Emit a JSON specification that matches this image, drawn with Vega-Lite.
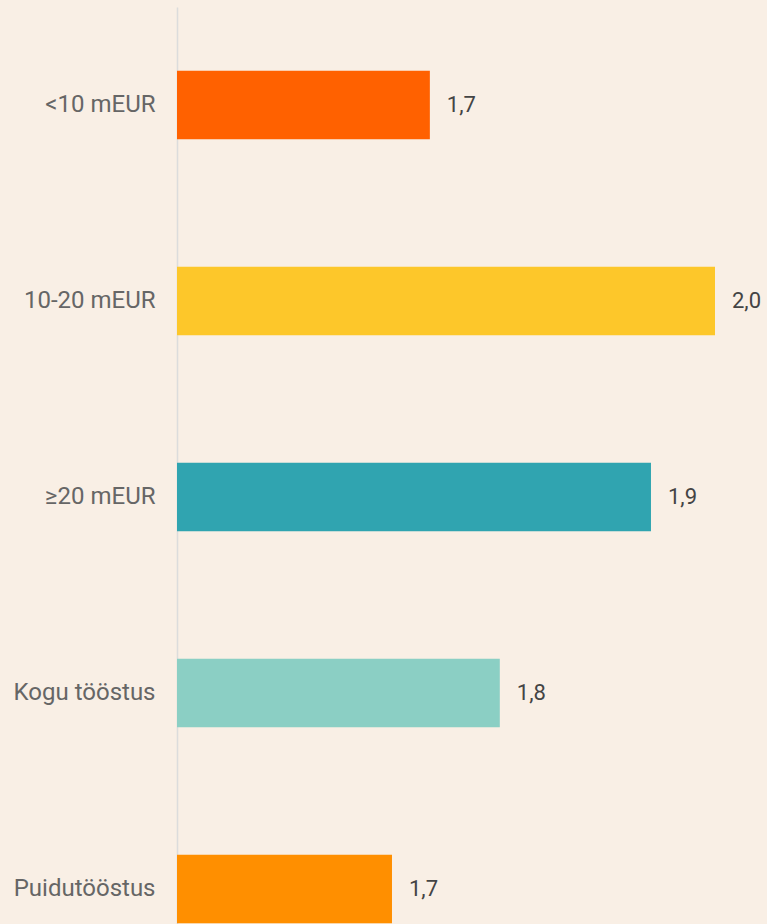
{
  "$schema": "https://vega.github.io/schema/vega-lite/v6.json",
  "autosize": {"type": "none"},
  "width": 538,
  "height": 980,
  "padding": {"top": 7, "left": 177, "right": 52, "bottom": 0},
  "background": "#f9efe5",
  "config": {
    "view": {"stroke": null},
    "locale": {"number": {"decimal": ",", "thousands": " ", "grouping": [3], "currency": ["", " €"]}},
    "font": "Roboto"
  },
  "data": {
    "values": [
      {"kategooria": "<10 mEUR", "vaartus": 1.735},
      {"kategooria": "10-20 mEUR", "vaartus": 2.0},
      {"kategooria": "≥20 mEUR", "vaartus": 1.9405},
      {"kategooria": "Kogu tööstus", "vaartus": 1.8},
      {"kategooria": "Puidutööstus", "vaartus": 1.6998}
    ]
  },
  "encoding": {
    "y": {
      "field": "kategooria",
      "type": "nominal",
      "sort": null,
      "scale": {"paddingInner": 0.65, "paddingOuter": 0.325},
      "axis": {
        "title": null,
        "ticks": false,
        "labelPadding": 22,
        "labelFontSize": 24,
        "labelColor": "#666666",
        "labelFont": "Roboto",
        "domainColor": "#dcdcdc",
        "domainWidth": 1.5,
        "labelLimit": 300
      }
    },
    "x": {
      "field": "vaartus",
      "type": "quantitative",
      "stack": null,
      "scale": {"domain": [1.5, 2.0], "zero": false, "nice": false},
      "axis": null
    }
  },
  "layer": [
    {
      "mark": {"type": "bar"},
      "encoding": {
        "color": {
          "field": "kategooria",
          "type": "nominal",
          "scale": {
            "domain": ["<10 mEUR", "10-20 mEUR", "≥20 mEUR", "Kogu tööstus", "Puidutööstus"],
            "range": ["#ff6100", "#fdc72a", "#30a4b0", "#8bcfc4", "#ff8f00"]
          },
          "legend": null
        }
      }
    },
    {
      "mark": {"type": "text", "align": "left", "baseline": "middle", "dx": 17, "fontSize": 22, "color": "#444444", "font": "Roboto"},
      "encoding": {
        "text": {"field": "vaartus", "type": "quantitative", "format": ".1f"}
      }
    }
  ]
}
